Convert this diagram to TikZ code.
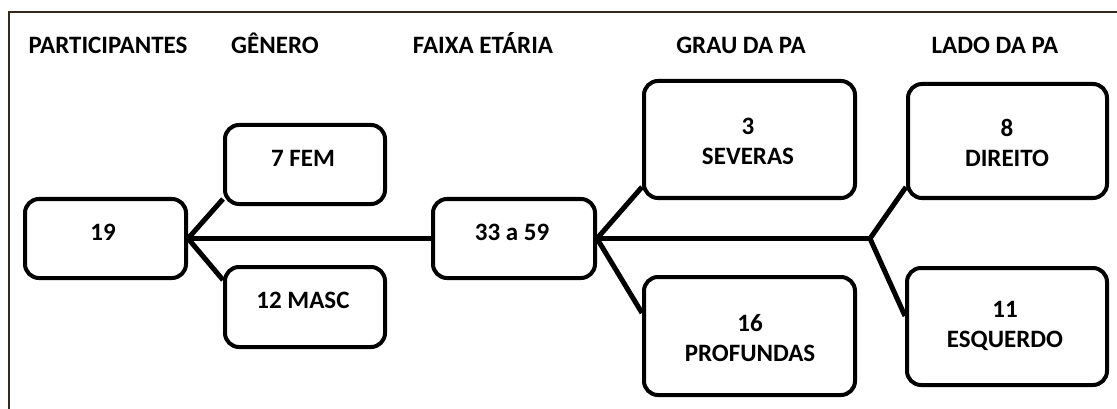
\documentclass[tikz,border=0pt]{standalone}
\usepackage{fontspec}
\setmainfont{Carlito}
\pgfdeclarelayer{background}
\pgfsetlayers{background,main}
\begin{document}
\begin{tikzpicture}[x=1pt,y=-1pt,
  box/.style={draw=black, line width=4pt, rounded corners=14pt, fill=white, inner sep=0pt},
  conn/.style={draw=black, line width=5pt},
  txt/.style={font=\fontsize{25}{30}\selectfont\bfseries, text=black, inner sep=0pt, align=center},
  ttl/.style={font=\fontsize{25}{30}\selectfont\bfseries, text=black, inner sep=0pt, anchor=base}]
\useasboundingbox (0,0) rectangle (1117,409);
% frame (top and left edges)
\draw[line width=1.5pt, draw={rgb,255:red,55;green,40;blue,30}] (9,409) -- (9,12) -- (1117,12);

% titles
\node[ttl] (t1) at (108,54) {PARTICIPANTES};
\node[ttl] (t2) at (275,54) {GÊNERO};
\node[ttl] (t3) at (483,54) {FAIXA ETÁRIA};
\node[ttl] (t4) at (741,54) {GRAU DA PA};
\node[ttl] (t5) at (995,54) {LADO DA PA};

% boxes
\node[box, minimum width=161pt, minimum height=79pt] (b19) at (105.5,238.5) {};
\node[box, minimum width=160pt, minimum height=79pt] (fem) at (305,164.5) {};
\node[box, minimum width=160pt, minimum height=80pt] (masc) at (305,307) {};
\node[box, minimum width=162pt, minimum height=79pt] (age) at (514,238.5) {};
\node[box, minimum width=211pt, minimum height=117pt] (sev) at (749.5,139.5) {};
\node[box, minimum width=211pt, minimum height=118pt] (prof) at (749.5,336) {};
\node[box, minimum width=199pt, minimum height=114pt] (dir) at (1007.5,141) {};
\node[box, minimum width=200pt, minimum height=117pt] (esq) at (1007,326.5) {};

\coordinate (j) at (870,238.5);

% connectors (behind boxes)
\begin{pgfonlayer}{background}
\draw[conn] (b19.east) -- ([yshift=7pt]fem.south west);
\draw[conn] (b19.east) -- ([yshift=-15pt]masc.north west);
\draw[conn] (b19.east) -- (age.west);
\draw[conn] (age.east) -- ([yshift=13pt]sev.south west);
\draw[conn] (age.east) -- ([yshift=-38pt]prof.north west);
\draw[conn] (age.east) -- (j);
\draw[conn] (j) -- ([yshift=13pt]dir.south west);
\draw[conn] (j) -- ([yshift=-50pt]esq.north west);
\end{pgfonlayer}

% texts
\node[txt] (x19) at (103,232) {19};
\node[txt] (xfem) at (303,158) {7 FEM};
\node[txt] (xmasc) at (303,300) {12 MASC};
\node[txt] (xage) at (512,232) {33 a 59};
\node[txt] (xsev) at (748,141.5) {3\\SEVERAS};
\node[txt] (xprof) at (750,338) {16\\PROFUNDAS};
\node[txt] (xdir) at (1007,143) {8\\DIREITO};
\node[txt] (xesq) at (1005,326) {11\\ESQUERDO};
\end{tikzpicture}
\end{document}
